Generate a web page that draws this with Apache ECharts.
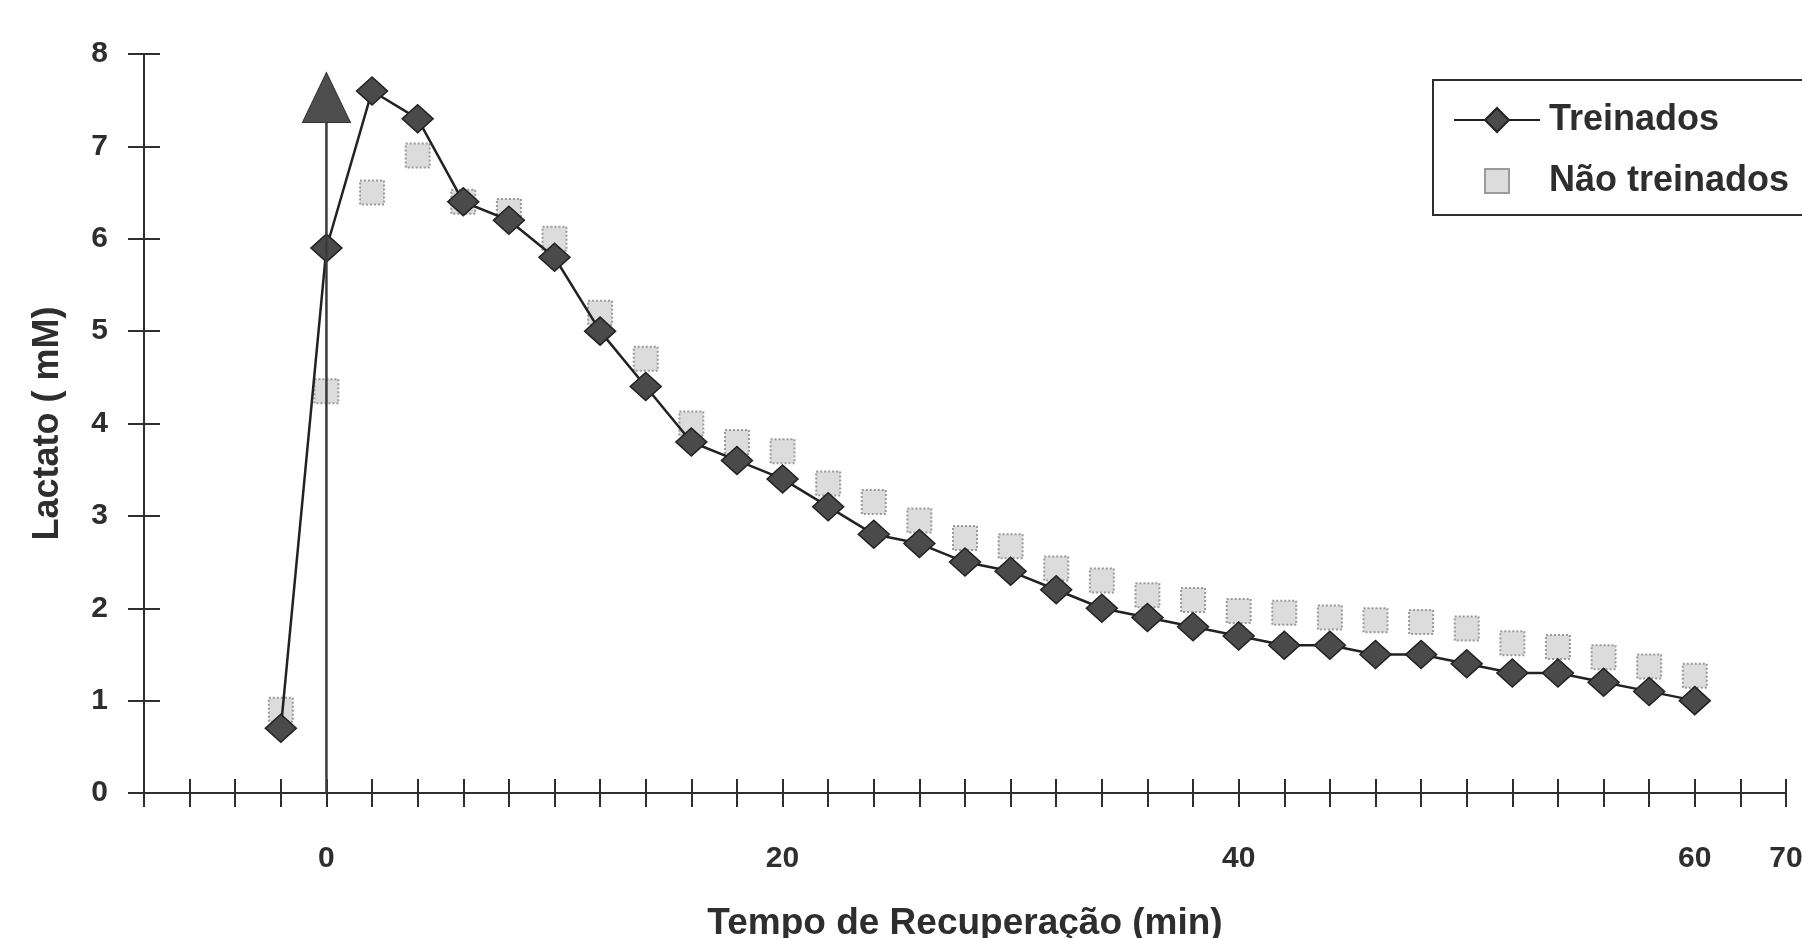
<!DOCTYPE html>
<html><head><meta charset="utf-8">
<script src="https://cdn.jsdelivr.net/npm/echarts@6/dist/echarts.min.js"></script>
<style>html,body{margin:0;padding:0;background:#fff}#c{width:1802px;height:938px}</style>
</head><body><div id="c"></div>
<script>
// ---- data ----
const tempo = [-2,0,2,4,6,8,10,12,14,16,18,20,22,24,26,28,30,32,34,36,38,40,42,44,46,48,50,52,54,56,58,60];
const treinados = [0.7,5.9,7.6,7.3,6.4,6.2,5.8,5.0,4.4,3.8,3.6,3.4,3.1,2.8,2.7,2.5,2.4,2.2,2.0,1.9,1.8,1.7,1.6,1.6,1.5,1.5,1.4,1.3,1.3,1.2,1.1,1.0];
const naoTreinados = [0.9,4.35,6.5,6.9,6.4,6.3,6.0,5.2,4.7,4.0,3.8,3.7,3.35,3.15,2.95,2.76,2.67,2.43,2.3,2.14,2.09,1.97,1.95,1.9,1.87,1.85,1.78,1.62,1.58,1.47,1.37,1.27];
const marcadorX = [0, 0];
const marcadorY = [0, 7.53];
const xLabelValues = [0, 20, 40, 60, 64];
const xLabelTexts = ['0', '20', '40', '60', '70'];
const yTicks = [0,1,2,3,4,5,6,7,8];
const seriesNames = ['Treinados', 'Não treinados'];

const FONT = "'Liberation Sans', Arial, sans-serif";
const INK = '#2e2e2e';

function pairs(xs, ys) { return xs.map((x, i) => [x, ys[i]]); }

const chart = echarts.init(document.getElementById('c'), null, {renderer: 'canvas'});

const axisLineStyle = {color: INK, width: 2};
const xBase = {type: 'value', min: -8, max: 64, interval: 2, position: 'bottom', splitLine: {show: false}};
const yBase = {type: 'value', min: yTicks[0], max: yTicks[yTicks.length-1], interval: 1, position: 'left', splitLine: {show: false}};

const option = {
  backgroundColor: '#ffffff',
  animation: false,
  textStyle: {fontFamily: FONT},
  grid: {left: 144, right: 16, top: 54, bottom: 145, containLabel: false, outerBoundsMode: 'none'},
  legend: {
    data: seriesNames,
    orient: 'vertical',
    left: 1433, top: 80,
    itemWidth: 86, itemHeight: 30, itemGap: 21,
    padding: [20, 60, 14, 20],
    borderColor: INK, borderWidth: 2,
    textStyle: {fontSize: 36, fontWeight: 'bold', lineHeight: 40, color: INK, fontFamily: FONT, padding: [0, 0, 0, 4]},
    selectedMode: false
  },
  xAxis: [
    Object.assign({}, xBase, {
      axisLine: {onZero: false, lineStyle: axisLineStyle},
      axisTick: {inside: false, length: 14, lineStyle: {color: INK, width: 2}},
      axisLabel: {
        margin: 51, fontSize: 30, fontWeight: 'bold', color: INK, fontFamily: FONT,
        showMinLabel: true, showMaxLabel: true,
        formatter: v => { const i = xLabelValues.indexOf(v); return i >= 0 ? xLabelTexts[i] : ''; }
      },
      name: 'Tempo de Recuperação (min)', nameLocation: 'middle', nameGap: 112,
      nameTextStyle: {fontSize: 37, fontWeight: 'bold', color: INK, fontFamily: FONT}
    }),
    Object.assign({}, xBase, {
      axisLine: {show: false, onZero: false},
      axisTick: {inside: true, length: 14, lineStyle: {color: INK, width: 2}},
      axisLabel: {show: false}
    })
  ],
  yAxis: [
    Object.assign({}, yBase, {
      axisLine: {show: true, onZero: false, lineStyle: axisLineStyle},
      axisTick: {show: true, inside: false, length: 16, lineStyle: {color: INK, width: 2}},
      axisLabel: {margin: 36, fontSize: 30, fontWeight: 'bold', color: INK, fontFamily: FONT},
      name: 'Lactato ( mM)', nameLocation: 'middle', nameGap: 78,
      nameTextStyle: {fontSize: 36, fontWeight: 'bold', color: INK, fontFamily: FONT}
    }),
    Object.assign({}, yBase, {
      axisLine: {show: false, onZero: false},
      axisTick: {show: true, inside: true, length: 16, lineStyle: {color: INK, width: 2}},
      axisLabel: {show: false}
    })
  ],
  series: [
    {
      name: 'Marcador', type: 'line', xAxisIndex: 0, yAxisIndex: 0,
      data: pairs(marcadorX, marcadorY).map((p, i) => i === 0 ? {value: p, symbol: 'none'} : {value: p, symbol: 'triangle', symbolSize: [48, 50]}),
      lineStyle: {color: '#3a3a3a', width: 2.5},
      itemStyle: {color: '#4d4d4d', borderColor: '#333', borderWidth: 1},
      clip: false, silent: true, z: 5
    },
    {
      name: 'Não treinados', type: 'line', xAxisIndex: 0, yAxisIndex: 0,
      data: pairs(tempo, naoTreinados),
      symbol: 'rect', symbolSize: 24,
      lineStyle: {width: 0, opacity: 0},
      itemStyle: {color: '#dcdcdc', borderColor: '#9a9a9a', borderWidth: 2, borderType: 'dotted'},
      clip: false, z: 2
    },
    {
      name: 'Treinados', type: 'line', xAxisIndex: 0, yAxisIndex: 0,
      data: pairs(tempo, treinados),
      symbol: 'diamond', symbolSize: [31, 28],
      lineStyle: {color: '#222', width: 2.5},
      itemStyle: {color: '#4a4a4a', borderColor: '#222', borderWidth: 1.5},
      clip: false, z: 3
    }
  ]
};
chart.setOption(option);
</script>
</body></html>
